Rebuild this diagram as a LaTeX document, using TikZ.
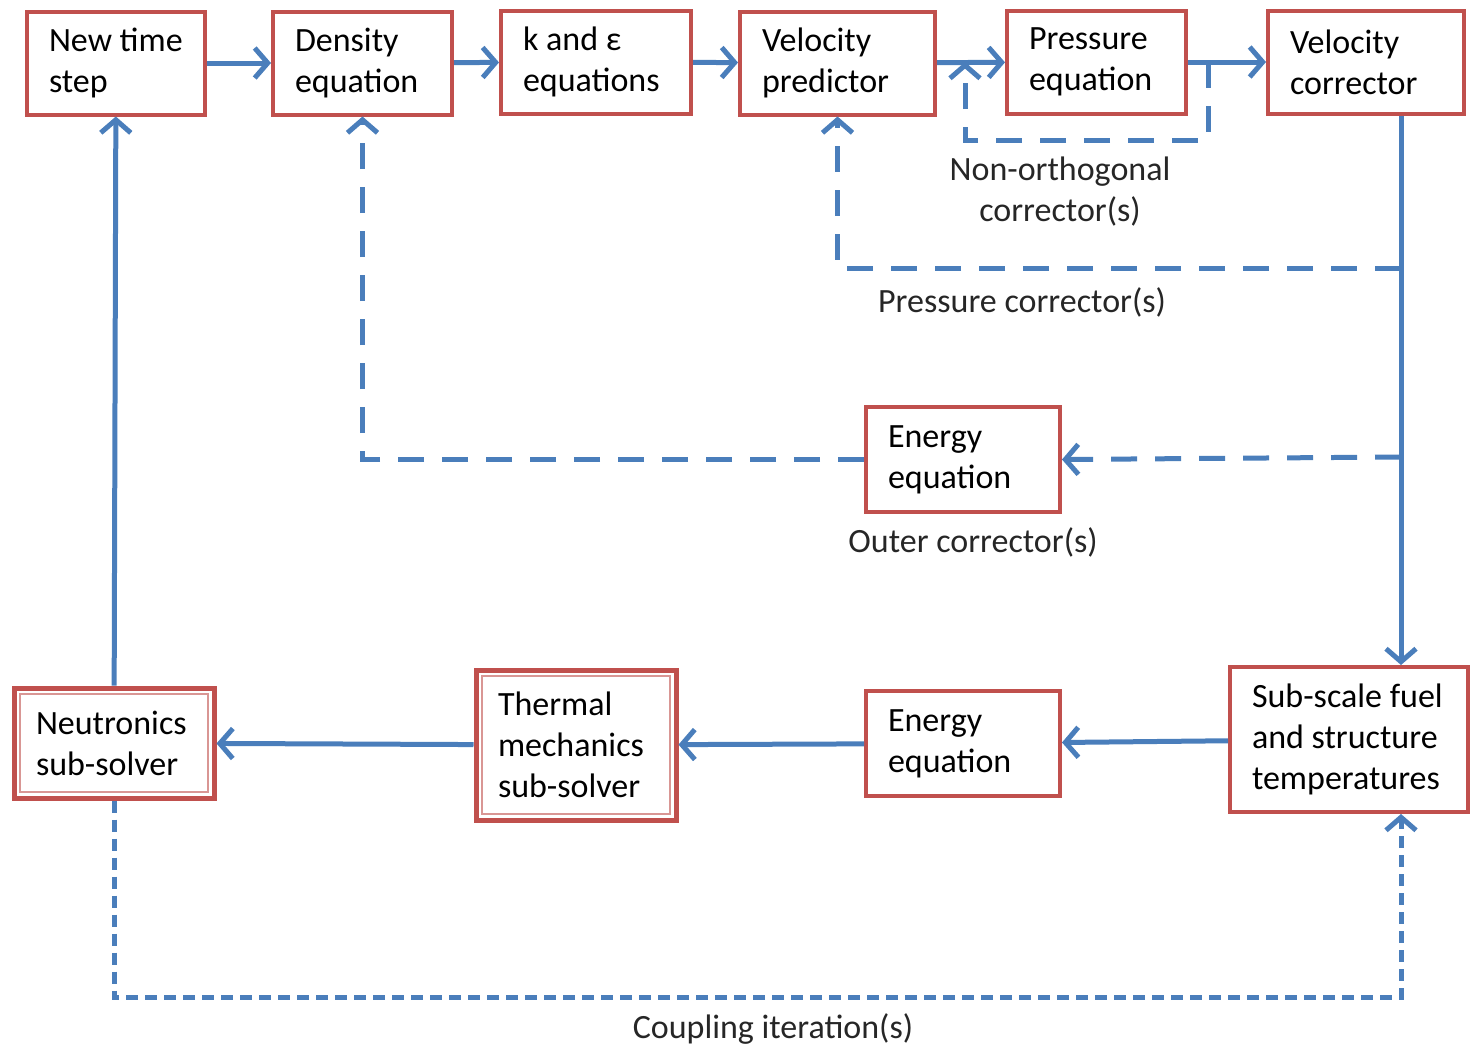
\documentclass[tikz,border=0pt]{standalone}
\usepackage{fontspec}
\setmainfont{Carlito}
\usetikzlibrary{arrows.meta,positioning}
\definecolor{boxred}{HTML}{C0504D}
\definecolor{flowblue}{HTML}{4A7EBB}
\tikzset{
  stepbox/.style 2 args={draw=boxred, line width=4pt, fill=white, align=flush left, inner sep=4pt,
    minimum width=#1, minimum height=#2, text width=#1-44pt, font=\fontsize{34}{41}\selectfont},
  solverbox/.style 2 args={stepbox={#1}{#2}, line width=5pt,
    path picture={\draw[boxred!60, line width=2.2pt]
      ([shift={(6pt,-6pt)}]path picture bounding box.north west) rectangle
      ([shift={(-6pt,6pt)}]path picture bounding box.south east);}},
  arrow/.style={-{Straight Barb[length=13pt,width=30pt,line width=5pt]}, line width=5pt, draw=flowblue},
  dasharrow/.style={arrow, dash pattern=on 26pt off 18pt},
  coupling/.style={arrow, dash pattern=on 12pt off 7pt},
  note/.style={font=\fontsize{34}{41}\selectfont, align=center, text=black!85}
}

\begin{document}
\begin{tikzpicture}[x=1pt, y=-1pt]
  \useasboundingbox (0,0) rectangle (1470,1047);

  % top row
  \node[stepbox={178pt}{103pt}] (nts) at (116,63) {New time\\step};
  \node[stepbox={179pt}{103pt}] (dens) at (362.5,63) {Density\\equation};
  \node[stepbox={190pt}{103pt}] (keps) at (596,62) {k and ε\\equations};
  \node[stepbox={195pt}{103pt}] (vpred) at (837.5,63) {Velocity\\predictor};
  \node[stepbox={179pt}{103pt}] (pres) at (1096.5,62) {Pressure\\equation};
  \node[stepbox={196pt}{103pt}] (vcorr) at (1366,62) {Velocity\\corrector};

  % middle
  \node[stepbox={194pt}{105pt}] (en1) at (963,459.5) {Energy\\equation};

  % bottom row
  \node[stepbox={238pt}{145pt}] (sub) at (1349,739.5) {Sub-scale fuel\\and structure\\temperatures};
  \node[stepbox={194pt}{105pt}] (en2) at (963,743.5) {Energy\\equation};
  \node[solverbox={200pt}{150pt}] (thm) at (576,745) {Thermal\\mechanics\\sub-solver};
  \node[solverbox={200pt}{110pt}] (neu) at (114,743) {Neutronics\\sub-solver};

  \coordinate (spine) at (1401,0);
  \coordinate (noA) at (1208,62);
  \coordinate (noB) at (965,62);
  \coordinate (pc) at (1401,268);
  \coordinate (oc) at (1401,457);

  \draw[arrow] (nts) -- (dens);
  \draw[arrow] (dens) -- (keps);
  \draw[arrow] (keps) -- (vpred);
  \draw[arrow] (vpred) -- (pres);
  \draw[arrow] (pres) -- (vcorr);
  \draw[arrow] (vcorr.south -| spine) -- (sub.north -| spine);
  \draw[arrow] (sub) -- (en2);
  \draw[arrow] (en2) -- (thm);
  \draw[arrow] (thm) -- (neu);
  \draw[arrow] (neu) -- (nts);

  \draw[dasharrow] (noA) -- ++(0,78) -| (noB);
  \draw[dasharrow] (pc) -| (vpred.south);
  \draw[dasharrow] (oc) -- (en1.east);
  \draw[dasharrow] (en1.west) -| (dens.south);
  \draw[coupling] (neu.south) -- ++(0,197) -| (sub.south -| spine);

  \node[note] (nolbl) at (1060,192) {Non-orthogonal\\corrector(s)};
  \node[note] (pclbl) at (1022,302) {Pressure corrector(s)};
  \node[note] (oclbl) at (973,542) {Outer corrector(s)};
  \node[note] (cilbl) at (773,1029) {Coupling iteration(s)};
\end{tikzpicture}
\end{document}
